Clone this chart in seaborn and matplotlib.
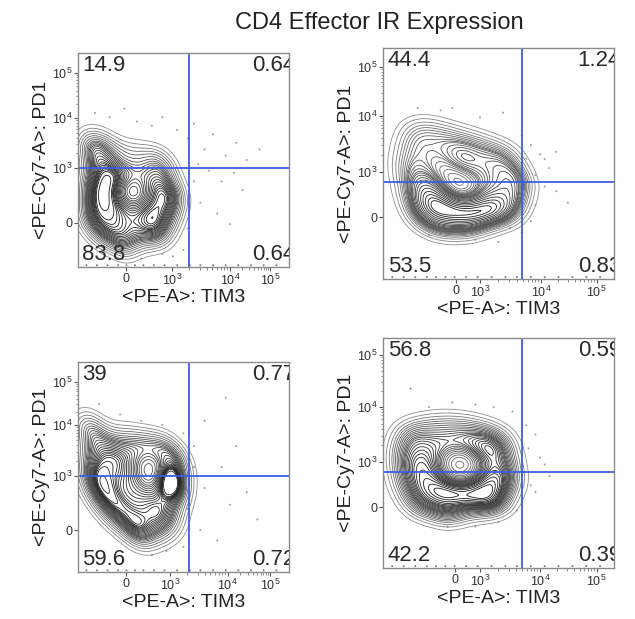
import matplotlib
matplotlib.use("Agg")
import matplotlib.pyplot as plt
import numpy as np
import seaborn as sns
from matplotlib.colors import LinearSegmentedColormap

sns.set_theme(style="white")
plt.rcParams["font.family"] = ["Liberation Sans", "DejaVu Sans"]

TITLE = "CD4 Effector IR Expression"
XLABEL = "<PE-A>: TIM3"
YLABEL = "<PE-Cy7-A>: PD1"
TICK_LABELS = ["0", r"$\mathregular{10^3}$", r"$\mathregular{10^4}$", r"$\mathregular{10^5}$"]

# quadrant frequencies: UL, UR, LL, LR
Q1 = ["14.9", "0.64", "83.8", "0.64"]
Q2 = ["44.4", "1.24", "53.5", "0.83"]
Q3 = ["39", "0.77", "59.6", "0.72"]
Q4 = ["56.8", "0.59", "42.2", "0.39"]

# gate (x, y) in display % of axis
GATE1 = (52.6, 46.3)
GATE2 = (60.0, 42.0)
GATE3 = (52.6, 45.7)
GATE4 = (60.0, 41.7)

# events in display units (0-100)
EV1_X = [4, 8, 14, 5, 10, 18, 26, 34, 40, 8, 13, 17, 21, 25, 30, 36, 43, 4, 8, 13, 18,
         34, 39, 44, 5, 9, 15, 20, 31, 37, 43, 47, 4, 9, 15, 21, 27, 33, 39, 45,
         6, 12, 18, 24, 30, 36, 42, 12, 19, 26, 33, 39, 22]
EV1_Y = [58, 60, 57, 52, 52, 53, 54, 52, 50, 46, 44, 44, 43, 44, 43, 45, 44, 40, 38, 37, 38,
         37, 38, 36, 32, 31, 31, 30, 30, 31, 30, 33, 25, 25, 24, 25, 26, 25, 24, 25,
         19, 18, 18, 18, 19, 18, 19, 13, 12, 12, 13, 14, 8]

EV2_X = [12, 18, 25, 32, 40, 48, 55, 10, 16, 23, 30, 38, 46, 53, 58, 9, 15, 22, 33, 34, 42, 50, 57,
         10, 17, 18, 19, 24, 41, 48, 55, 60, 11, 25, 44, 52, 58,
         14, 20, 25, 30, 35, 40, 45, 50, 20, 28, 36, 44, 16, 24, 32, 40, 48, 55, 22, 30, 38]
EV2_Y = [64, 66, 64, 62, 60, 57, 54, 57, 58, 57, 56, 55, 52, 49, 46, 50, 50, 50, 51, 49, 48, 45, 42,
         44, 43, 38, 39, 42, 42, 39, 37, 40, 37, 36, 35, 33, 33,
         31, 31, 30, 30, 31, 30, 31, 30, 32, 32, 29, 29, 26, 25, 25, 25, 26, 28, 22, 21, 22]

EV3_X = [3, 6, 4, 10, 17, 24, 31, 38, 44, 5, 10, 15, 20, 26, 32, 38, 45, 49, 4, 9, 15, 21, 27, 47,
         5, 10, 16, 22, 28, 42, 43, 43, 44, 49, 7, 12, 18, 25, 31, 37, 47,
         11, 16, 22, 28, 34, 40, 46, 16, 22, 28, 34, 40, 45, 24, 30, 36, 41, 30]
EV3_Y = [70, 72, 64, 66, 64, 65, 63, 62, 60, 57, 57, 58, 57, 58, 57, 57, 55, 52, 50, 50, 51, 50, 52, 48,
         44, 44, 44, 44, 46, 46, 42, 39, 44, 42, 38, 38, 37, 38, 38, 38, 36,
         32, 31, 31, 31, 32, 31, 30, 25, 25, 24, 25, 25, 24, 19, 18, 18, 19, 15]

EV4_X = [10, 17, 24, 31, 38, 45, 51, 8, 14, 20, 27, 31, 36, 41, 46, 53, 7, 13, 19, 24, 42, 48, 54,
         8, 14, 20, 25, 42, 48, 54, 9, 15, 21, 27, 36, 43, 49, 55,
         12, 18, 25, 30, 35, 40, 46, 52, 16, 23, 30, 37, 44, 50, 28]
EV4_Y = [60, 62, 63, 63, 62, 60, 57, 54, 55, 55, 55, 54, 55, 54, 53, 52, 48, 48, 48, 49, 48, 48, 46,
         42, 42, 42, 42, 41, 41, 41, 36, 36, 36, 35, 36, 36, 36, 37,
         30, 30, 32, 32, 32, 31, 30, 31, 25, 25, 25, 25, 26, 27, 22]

# sparse events outside the outer contour
DOT1_X = [8, 15, 22, 28, 35, 40, 47, 52, 55, 60, 64, 70, 75, 80, 86, 62, 68, 74, 78, 58, 66, 72, 52, 50, 45, 40, 30, 55, 57]
DOT1_Y = [72, 70, 74, 68, 66, 70, 64, 60, 67, 55, 62, 52, 58, 50, 55, 45, 40, 44, 36, 30, 25, 20, 18, 8, 5, 6, 4, 40, 48]
DOT2_X = [15, 25, 30, 42, 52, 60, 64, 68, 70, 72, 66, 63, 70, 75, 80, 66, 64, 60, 50, 40, 20, 55, 75, 62]
DOT2_Y = [74, 73, 74, 70, 72, 62, 58, 54, 52, 48, 45, 42, 40, 38, 33, 32, 25, 20, 16, 17, 19, 22, 55, 52]
DOT3_X = [10, 20, 30, 40, 50, 55, 60, 70, 75, 68, 60, 52, 58, 66, 80, 72, 50, 42, 35, 55, 85]
DOT3_Y = [80, 75, 72, 70, 66, 60, 72, 83, 60, 50, 40, 30, 20, 15, 38, 32, 12, 10, 8, 50, 25]
DOT4_X = [12, 20, 30, 40, 48, 56, 62, 66, 63, 68, 70, 60, 64, 66, 58, 50, 40, 28, 60, 72]
DOT4_Y = [78, 70, 72, 71, 70, 68, 62, 58, 52, 48, 45, 42, 36, 33, 25, 20, 18, 18, 30, 40]
# events piled on the bottom edge
EDGE_X = [4, 9, 14, 19, 23, 27, 31, 36, 41, 47, 53, 58, 64, 70, 76, 82, 88, 94]

# tick positions (display %) for 0, 1e3, 1e4, 1e5
PANELS = [
    dict(rect=[0.1228, 0.5687, 0.3323, 0.3457], ex=EV1_X, ey=EV1_Y, dx=DOT1_X, dy=DOT1_Y,
         gate=GATE1, q=Q1, xt=[22.7, 44.5, 72.0, 91.0], yt=[20.6, 46.3, 69.6, 90.7]),
    dict(rect=[0.6031, 0.5493, 0.3638, 0.3732], ex=EV2_X, ey=EV2_Y, dx=DOT2_X, dy=DOT2_Y,
         gate=GATE2, q=Q2, xt=[31.5, 42.0, 68.5, 92.5], yt=[26.8, 46.3, 70.6, 91.8]),
    dict(rect=[0.1228, 0.0759, 0.3323, 0.3393], ex=EV3_X, ey=EV3_Y, dx=DOT3_X, dy=DOT3_Y,
         gate=GATE3, q=Q3, xt=[22.7, 43.6, 71.0, 91.0], yt=[20.0, 45.7, 70.0, 90.5]),
    dict(rect=[0.6031, 0.0824, 0.3638, 0.3716], ex=EV4_X, ey=EV4_Y, dx=DOT4_X, dy=DOT4_Y,
         gate=GATE4, q=Q4, xt=[31.0, 42.0, 68.0, 92.5], yt=[26.5, 46.1, 70.0, 92.6]),
]

GATE_BLUE = "#3a5ee8"
SPINE = "#8a8a8a"
contour_cmap = LinearSegmentedColormap.from_list("flow", ["#8f8f8f", "#111111"])


def minor_positions(major):
    out = []
    for lo, hi in zip(major[1:-1], major[2:]):
        for k in range(2, 10):
            out.append(lo + np.log10(k) * (hi - lo))
    return out


fig = plt.figure(figsize=(6.35, 6.19), dpi=100)
fig.text(0.598, 0.963, TITLE, ha="center", va="center", fontsize=17, color="#222222")

for p in PANELS:
    ax = fig.add_axes(p["rect"])
    sns.kdeplot(x=p["ex"], y=p["ey"], ax=ax, levels=26, thresh=0.06, bw_adjust=0.8,
                cmap=contour_cmap, linewidths=0.6)
    sns.scatterplot(x=p["dx"], y=p["dy"], ax=ax, s=2, color="#9a9a9a", edgecolor="none")
    sns.scatterplot(x=EDGE_X, y=[0.8] * len(EDGE_X), ax=ax, s=2, color="#777777",
                    edgecolor="none", clip_on=False)
    gx, gy = p["gate"]
    ax.axvline(gx, color=GATE_BLUE, lw=1.3)
    ax.axhline(gy, color=GATE_BLUE, lw=1.3)
    ax.set_xlim(0, 100)
    ax.set_ylim(0, 100)

    ax.set_xticks(p["xt"])
    ax.set_xticklabels(TICK_LABELS)
    ax.set_yticks(p["yt"])
    ax.set_yticklabels(TICK_LABELS)
    ax.set_xticks(minor_positions(p["xt"]), minor=True)
    ax.set_yticks(minor_positions(p["yt"]), minor=True)
    ax.tick_params(which="major", direction="out", length=3, width=0.8, color="#555555",
                   labelsize=9, labelcolor="#333333", pad=1, left=True, bottom=True)
    ax.tick_params(which="minor", direction="out", length=1.8, width=0.6, color="#777777",
                   left=True, bottom=True)
    ax.set_xlabel(XLABEL, fontsize=14, color="#222222", labelpad=1)
    ax.set_ylabel(YLABEL, fontsize=14, color="#222222", labelpad=1)
    for s in ax.spines.values():
        s.set_color(SPINE)
        s.set_linewidth(1.0)

    ul, ur, ll, lr = p["q"]
    kw = dict(transform=ax.transAxes, fontsize=16, color="#2a2a2a", clip_on=True)
    ax.text(0.02, 0.99, ul, ha="left", va="top", **kw)
    ax.text(1.03, 0.99, ur, ha="right", va="top", **kw)
    ax.text(0.02, 0.01, ll, ha="left", va="bottom", **kw)
    ax.text(1.03, 0.01, lr, ha="right", va="bottom", **kw)

fig.savefig("out.png", dpi=100)
